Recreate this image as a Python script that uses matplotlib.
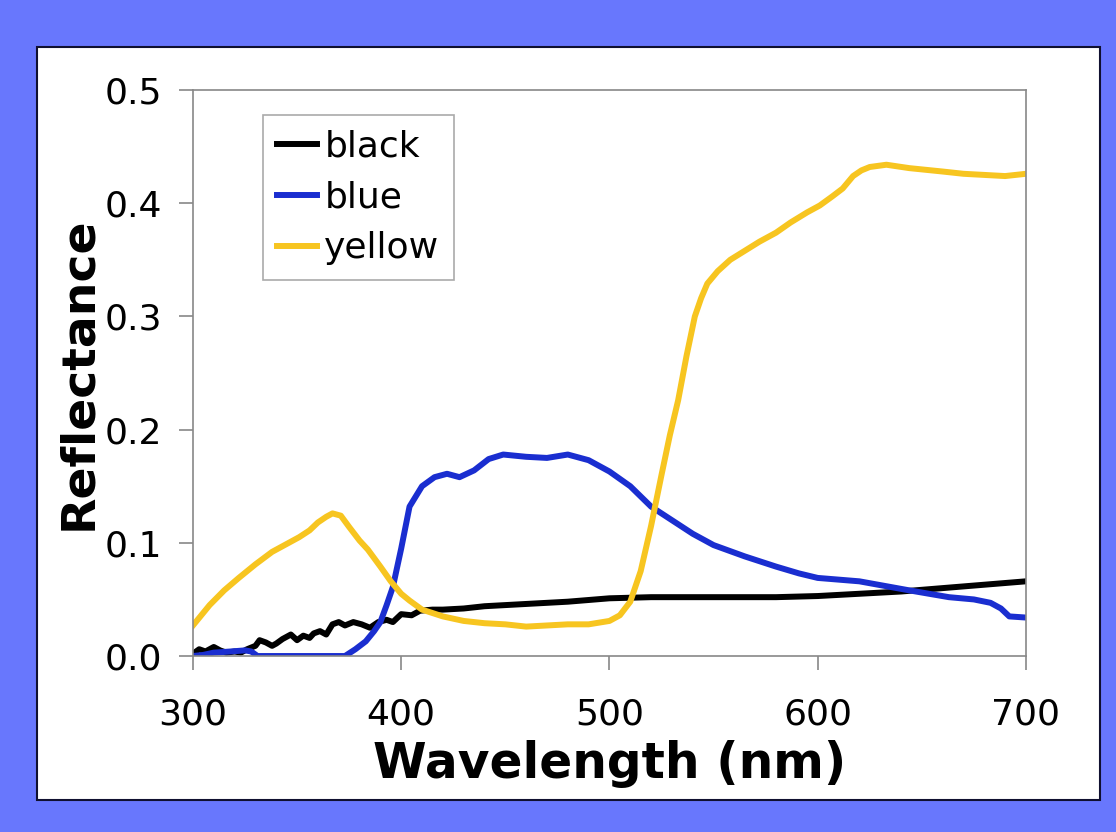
import numpy as np
import matplotlib.pyplot as plt
from matplotlib.patches import Rectangle

# wavelengths (nm) and reflectance
wl_black = [300, 303, 306, 310, 313, 316, 320, 323, 326, 330, 332, 335, 338, 340,
            343, 347, 350, 353, 356, 358, 361, 364, 367, 370, 373, 377, 381, 385,
            389, 393, 396, 400, 405, 409, 415, 420, 430, 440, 460, 480, 500, 520,
            550, 580, 600, 620, 640, 660, 680, 700]
refl_black = [0.002, 0.006, 0.004, 0.008, 0.005, 0.003, 0.004, 0.003, 0.006, 0.009, 0.014,
              0.012, 0.009, 0.011, 0.015, 0.019, 0.014, 0.018, 0.016, 0.020, 0.022, 0.019,
              0.028, 0.030, 0.027, 0.030, 0.028, 0.025, 0.030, 0.032, 0.030, 0.037, 0.036,
              0.040, 0.041, 0.041, 0.042, 0.044, 0.046, 0.048, 0.051, 0.052, 0.052, 0.052,
              0.053, 0.055, 0.057, 0.060, 0.063, 0.066]

wl_blue = [300, 305, 310, 318, 325, 328, 331, 350, 365, 373, 378, 383, 387, 390,
           393, 396, 400, 404, 410, 416, 422, 428, 435, 442, 449, 460, 470, 480,
           490, 500, 510, 520, 530, 540, 550, 565, 580, 591, 600, 620, 644, 663,
           675, 683, 688, 692, 700]
refl_blue = [0.0, 0.001, 0.003, 0.004, 0.005, 0.004, 0.0, 0.0, 0.0, 0.0, 0.006, 0.013,
             0.022, 0.030, 0.045, 0.061, 0.095, 0.132, 0.150, 0.158, 0.161, 0.158, 0.164,
             0.174, 0.178, 0.176, 0.175, 0.178, 0.173, 0.163, 0.150, 0.132, 0.120, 0.108,
             0.098, 0.088, 0.079, 0.073, 0.069, 0.066, 0.058, 0.052, 0.050, 0.047, 0.042,
             0.035, 0.034]

wl_yellow = [300, 308, 315, 322, 330, 338, 345, 351, 356, 360, 364, 367, 371, 375, 380,
             384, 390, 395, 400, 404, 410, 420, 430, 440, 450, 460, 470, 480, 490,
             500, 505, 510, 515, 520, 525, 529, 533, 537, 541, 544, 547, 552, 558,
             565, 572, 580, 587, 595, 601, 607, 612, 617, 621, 625, 633, 644, 660,
             670, 680, 690, 700]
refl_yellow = [0.027, 0.045, 0.058, 0.069, 0.081, 0.092, 0.099, 0.105, 0.111, 0.118,
               0.123, 0.126, 0.124, 0.114, 0.102, 0.094, 0.079, 0.066, 0.055, 0.049,
               0.041, 0.035, 0.031, 0.029, 0.028, 0.026, 0.027, 0.028, 0.028, 0.031,
               0.036, 0.048, 0.075, 0.115, 0.160, 0.195, 0.226, 0.265, 0.300, 0.316,
               0.329, 0.340, 0.350, 0.358, 0.366, 0.374, 0.383, 0.392, 0.398, 0.406,
               0.413, 0.424, 0.429, 0.432, 0.434, 0.431, 0.428, 0.426, 0.425, 0.424,
               0.426]

fig = plt.figure(figsize=(11.16, 8.32), dpi=100, facecolor="#6877fd")
fig.patches.append(Rectangle((0.0332, 0.0385), 0.9525, 0.905, transform=fig.transFigure,
                             facecolor="white", edgecolor="#101030", linewidth=1.5,
                             zorder=-10))

ax = fig.add_axes([0.1729, 0.2115, 0.7464, 0.6803])
ax.set_zorder(5)
ax.plot(wl_black, refl_black, color="black", linewidth=4.3, label="black")
ax.plot(wl_blue, refl_blue, color="#1a2ed0", linewidth=4.3, label="blue")
ax.plot(wl_yellow, refl_yellow, color="#f7c520", linewidth=4.3, label="yellow")

ax.set_xlim(300, 700)
ax.set_ylim(0, 0.5)
ax.set_xticks([300, 400, 500, 600, 700])
ax.set_yticks(np.arange(0, 0.51, 0.1))
ax.set_yticklabels([f"{v:.1f}" for v in np.arange(0, 0.51, 0.1)])
ax.tick_params(axis="both", labelsize=26, color="#888888", length=10, width=1.2)
ax.tick_params(axis="x", pad=20)
ax.tick_params(axis="y", pad=12)
for s in ax.spines.values():
    s.set_color("#888888")
    s.set_linewidth(1.2)

ax.set_xlabel("Wavelength (nm)", fontsize=35, fontweight="bold", labelpad=6)
ax.set_ylabel("Reflectance", fontsize=34, fontweight="bold", labelpad=3)

leg = ax.legend(loc="upper left", bbox_to_anchor=(0.084, 0.956), fontsize=26,
                handlelength=1.1, handletextpad=0.2, labelspacing=0.47,
                fancybox=False, framealpha=1, edgecolor="#aaaaaa", borderpad=0.4,
                borderaxespad=0)
leg.get_frame().set_linewidth(1.2)

fig.savefig("out.png", dpi=100, facecolor=fig.get_facecolor())
